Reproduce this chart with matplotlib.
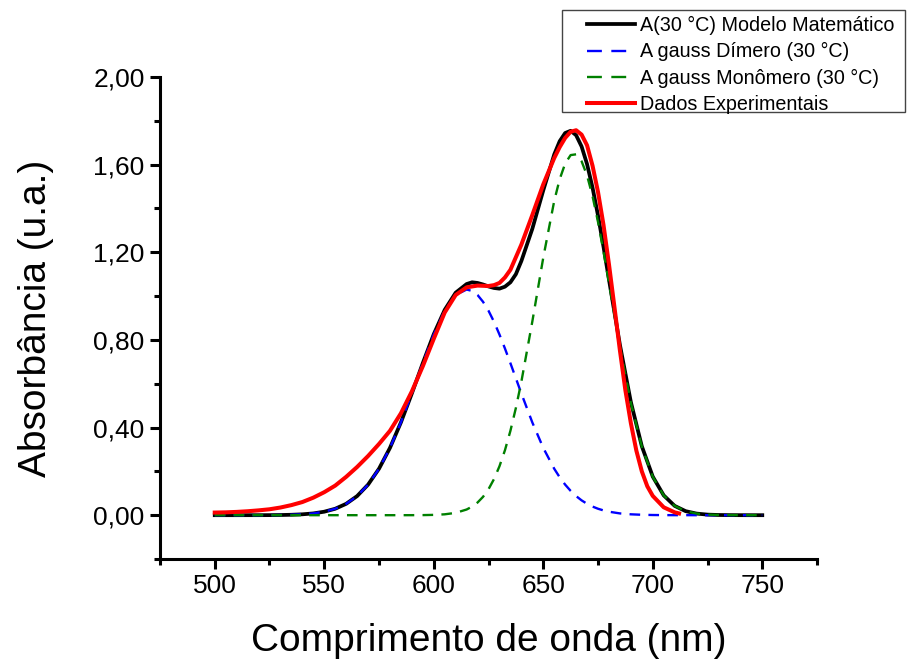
import matplotlib
matplotlib.use("Agg")
import matplotlib.pyplot as plt
from matplotlib.lines import Line2D
from matplotlib.patches import Rectangle
from matplotlib.ticker import FixedLocator, MultipleLocator, FuncFormatter

plt.rcParams['font.family'] = ['Liberation Sans', 'DejaVu Sans']

# comprimento de onda (nm) para as curvas do modelo
wl = [500, 505, 510, 515, 520, 525, 530, 535, 540, 545,
      550, 555, 560, 565, 570, 575, 580, 585, 590, 595,
      600, 605, 610,
      615, 617.5, 620, 622.5, 625, 627.5, 630, 632.5, 635, 637.5,
      640, 645, 650, 655, 657.5, 660, 662.5, 665, 667.5, 670,
      672.5, 675, 677.5, 680,
      685, 690, 695, 700, 705, 710, 715, 720, 725, 730,
      735, 740, 745, 750]

modelo = [0.0, 0.0, 0.0, 0.0001, 0.0001, 0.0003, 0.0008, 0.0019, 0.0040, 0.0081,
          0.0159, 0.0294, 0.0519, 0.0872, 0.1394, 0.2121, 0.3071, 0.4234, 0.5557, 0.6942,
          0.8261, 0.9372, 1.0155,
          1.055, 1.063, 1.060, 1.053, 1.044, 1.037, 1.034, 1.043, 1.063, 1.100,
          1.160, 1.307, 1.4826, 1.6463, 1.707, 1.7444, 1.7545, 1.7343, 1.683, 1.6022,
          1.495, 1.3677, 1.2256, 1.0756,
          0.7775, 0.5163, 0.3148, 0.1760, 0.0904, 0.0425, 0.0184, 0.0073, 0.0026, 0.0009,
          0.0003, 0.0001, 0.0, 0.0]

dimero = [0.0, 0.0, 0.0, 0.0001, 0.0001, 0.0003, 0.0008, 0.0019, 0.0040, 0.0081,
          0.0159, 0.0294, 0.0519, 0.0872, 0.1394, 0.2121, 0.3071, 0.4234, 0.5556, 0.6938,
          0.8247, 0.9332, 1.0049,
          1.030, 1.0236, 1.0049, 0.974, 0.9332, 0.883, 0.8247, 0.761, 0.6938, 0.6247,
          0.5556, 0.4234, 0.3071, 0.2121, 0.173, 0.1394, 0.111, 0.0872, 0.0677, 0.0519,
          0.0393, 0.0294, 0.0218, 0.0159,
          0.0081, 0.0040, 0.0019, 0.0008, 0.0003, 0.0001, 0.0001, 0.0, 0.0, 0.0,
          0.0, 0.0, 0.0, 0.0]

monomero = [0.0, 0.0, 0.0, 0.0, 0.0, 0.0, 0.0, 0.0, 0.0, 0.0,
            0.0, 0.0, 0.0, 0.0, 0.0, 0.0, 0.0, 0.0, 0.0001, 0.0004,
            0.0014, 0.0040, 0.0106,
            0.0259, 0.0392, 0.0579, 0.0838, 0.1187, 0.1647, 0.2233, 0.2963, 0.3851, 0.4896,
            0.6092, 0.8836, 1.1755, 1.4342, 1.5337, 1.6050, 1.6436, 1.6471, 1.6154, 1.5503,
            1.456, 1.3383, 1.2038, 1.0597,
            0.7694, 0.5123, 0.3129, 0.1752, 0.0901, 0.0424, 0.0183, 0.0073, 0.0026, 0.0009,
            0.0003, 0.0001, 0.0, 0.0]

# dados experimentais
wl_exp = [500, 505, 510, 515, 520, 525, 530, 535, 540, 545,
          550, 555, 560, 565, 570, 575, 580, 585, 590, 595,
          600, 605, 610, 615, 620, 625, 627.5, 630, 632.5, 635,
          640, 645, 650, 655, 657.5, 660, 662.5, 665, 667.5, 670,
          672.5, 675, 677.5, 680, 682.5, 685, 687.5, 690, 692.5, 695,
          697.5, 700, 705, 710, 712]
abs_exp = [0.012, 0.013, 0.015, 0.018, 0.022, 0.027, 0.035, 0.046, 0.060, 0.080,
           0.105, 0.135, 0.175, 0.220, 0.270, 0.325, 0.385, 0.465, 0.565, 0.680,
           0.805, 0.925, 1.005, 1.040, 1.048, 1.046, 1.050, 1.060, 1.085, 1.120,
           1.235, 1.370, 1.510, 1.630, 1.680, 1.722, 1.750, 1.757, 1.737, 1.688,
           1.595, 1.475, 1.325, 1.145, 0.950, 0.752, 0.570, 0.420, 0.295, 0.200,
           0.132, 0.088, 0.036, 0.013, 0.008]

yticks = [0.0, 0.4, 0.8, 1.2, 1.6, 2.0]
labels = ['A(30 °C) Modelo Matemático', 'A gauss Dímero (30 °C)',
          'A gauss Monômero (30 °C)', 'Dados Experimentais']

fig = plt.figure(figsize=(9.07, 6.61), dpi=100)
ax = fig.add_axes([0.1764, 0.1543, 0.7244, 0.7292])

dash = (4.5, 3.5)
ln_mod, = ax.plot(wl, modelo, color='black', lw=2.7, zorder=2,
                  solid_joinstyle='round')
ax.plot(wl, dimero, color='#0000ff', lw=1.7, dashes=dash, zorder=3)
ax.plot(wl, monomero, color='#008000', lw=1.7, dashes=dash, zorder=3)
ln_exp, = ax.plot(wl_exp, abs_exp, color='#ff0000', lw=2.9, zorder=4,
                  solid_joinstyle='round')

ax.set_xlim(475, 775)
ax.set_ylim(-0.2, 2.0)
ax.xaxis.set_major_locator(MultipleLocator(50))
ax.xaxis.set_minor_locator(MultipleLocator(25))
ax.yaxis.set_major_locator(FixedLocator(yticks))
ax.yaxis.set_minor_locator(MultipleLocator(0.2))
ax.yaxis.set_major_formatter(FuncFormatter(lambda v, p: f'{v:.2f}'.replace('.', ',')))

for s in ['top', 'right']:
    ax.spines[s].set_visible(False)
for s in ['left', 'bottom']:
    ax.spines[s].set_linewidth(2.2)

ax.tick_params(which='major', direction='out', length=7, width=2.2,
               labelsize=19, pad=4)
ax.tick_params(which='minor', direction='out', length=4.5, width=2.2)

ax.set_xlabel('Comprimento de onda (nm)', fontsize=28, labelpad=18)
ax.set_ylabel('Absorbância (u.a.)', fontsize=28, labelpad=28)

# legenda sem moldura própria; a caixa é desenhada à parte
leg_dim = Line2D([], [], color='#0000ff', lw=1.7, dashes=(6.3, 4.0))
leg_mon = Line2D([], [], color='#008000', lw=1.7, dashes=(6.3, 4.0))
leg = fig.legend([ln_mod, leg_dim, leg_mon, ln_exp], labels,
                 loc='upper left', bbox_to_anchor=(0.6472, 0.9758),
                 fontsize=14.2, frameon=False,
                 handlelength=2.45, handletextpad=0.22, labelspacing=0.37,
                 borderpad=0, borderaxespad=0)
fig.patches.append(Rectangle((0.6196, 0.8306), 0.3782, 0.1543,
                             transform=fig.transFigure, fill=False,
                             edgecolor='#444444', lw=1.0))

fig.savefig('out.png', dpi=100)
